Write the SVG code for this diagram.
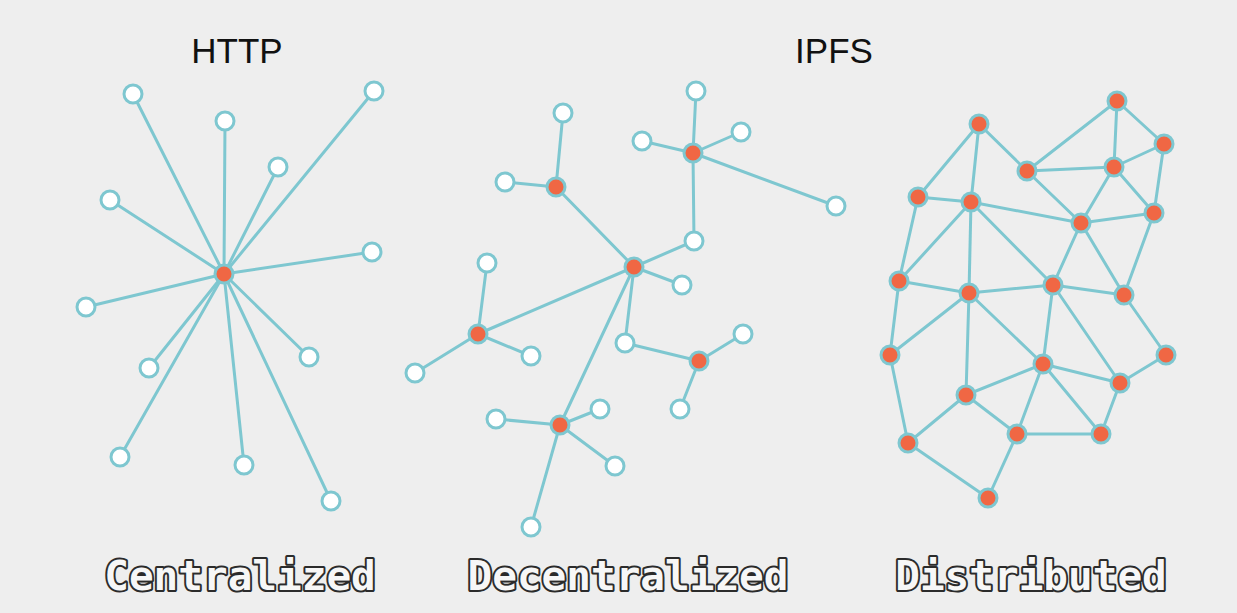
<svg xmlns="http://www.w3.org/2000/svg" width="1237" height="613" viewBox="0 0 1237 613">
<style>
.bg{fill:#eeeeee}
.e line{stroke:#7ec7d0;stroke-width:3;stroke-linecap:round}
.w{fill:#ffffff;stroke:#7ec7d0;stroke-width:3}
.o{fill:#f06744;stroke:#7ec7d0;stroke-width:3}
.title{font-family:"Liberation Sans",Arial,sans-serif;font-size:35px;fill:#111111;text-anchor:middle}
.lab{font-family:"DejaVu Sans Mono",monospace;font-weight:bold;font-size:41px;fill:#f7f7f7;stroke:#2b2b2b;stroke-width:4;paint-order:stroke;stroke-linejoin:round;text-anchor:middle}
</style>
<rect class="bg" x="0" y="0" width="1237" height="613"/>
<text class="title" x="237" y="63">HTTP</text>
<text class="title" x="834" y="63">IPFS</text>

<g id="connectors" class="e">
<!-- centralized -->
<line x1="224" y1="274" x2="133" y2="94"/>
<line x1="224" y1="274" x2="225" y2="121"/>
<line x1="224" y1="274" x2="374" y2="91"/>
<line x1="224" y1="274" x2="278" y2="167"/>
<line x1="224" y1="274" x2="110" y2="200"/>
<line x1="224" y1="274" x2="372" y2="252"/>
<line x1="224" y1="274" x2="86" y2="307"/>
<line x1="224" y1="274" x2="149" y2="368"/>
<line x1="224" y1="274" x2="309" y2="357"/>
<line x1="224" y1="274" x2="120" y2="457"/>
<line x1="224" y1="274" x2="244" y2="465"/>
<line x1="224" y1="274" x2="331" y2="501"/>
<!-- decentralized -->
<line x1="634" y1="267" x2="556" y2="187"/>
<line x1="556" y1="187" x2="563" y2="113"/>
<line x1="556" y1="187" x2="505" y2="182"/>
<line x1="634" y1="267" x2="694" y2="241"/>
<line x1="694" y1="241" x2="693" y2="153"/>
<line x1="693" y1="153" x2="696" y2="91"/>
<line x1="693" y1="153" x2="642" y2="141"/>
<line x1="693" y1="153" x2="741" y2="132"/>
<line x1="693" y1="153" x2="836" y2="206"/>
<line x1="634" y1="267" x2="682" y2="285"/>
<line x1="634" y1="267" x2="478" y2="334"/>
<line x1="478" y1="334" x2="487" y2="263"/>
<line x1="478" y1="334" x2="531" y2="356"/>
<line x1="478" y1="334" x2="415" y2="373"/>
<line x1="634" y1="267" x2="625" y2="343"/>
<line x1="625" y1="343" x2="699" y2="361"/>
<line x1="699" y1="361" x2="743" y2="334"/>
<line x1="699" y1="361" x2="680" y2="409"/>
<line x1="634" y1="267" x2="560" y2="425"/>
<line x1="560" y1="425" x2="496" y2="419"/>
<line x1="560" y1="425" x2="600" y2="409"/>
<line x1="560" y1="425" x2="615" y2="466"/>
<line x1="560" y1="425" x2="531" y2="527"/>
<!-- distributed -->
<line x1="979" y1="124" x2="918" y2="197"/>
<line x1="979" y1="124" x2="971" y2="202"/>
<line x1="979" y1="124" x2="1027" y2="171"/>
<line x1="1117" y1="101" x2="1027" y2="171"/>
<line x1="1117" y1="101" x2="1114" y2="167"/>
<line x1="1117" y1="101" x2="1164" y2="144"/>
<line x1="1164" y1="144" x2="1114" y2="167"/>
<line x1="1164" y1="144" x2="1154" y2="213"/>
<line x1="1027" y1="171" x2="1114" y2="167"/>
<line x1="1027" y1="171" x2="1081" y2="223"/>
<line x1="1114" y1="167" x2="1081" y2="223"/>
<line x1="1114" y1="167" x2="1154" y2="213"/>
<line x1="918" y1="197" x2="971" y2="202"/>
<line x1="918" y1="197" x2="899" y2="281"/>
<line x1="971" y1="202" x2="1081" y2="223"/>
<line x1="971" y1="202" x2="899" y2="281"/>
<line x1="971" y1="202" x2="969" y2="293"/>
<line x1="971" y1="202" x2="1053" y2="285"/>
<line x1="1081" y1="223" x2="1154" y2="213"/>
<line x1="1081" y1="223" x2="1053" y2="285"/>
<line x1="1081" y1="223" x2="1124" y2="295"/>
<line x1="1154" y1="213" x2="1124" y2="295"/>
<line x1="899" y1="281" x2="969" y2="293"/>
<line x1="969" y1="293" x2="1053" y2="285"/>
<line x1="1053" y1="285" x2="1124" y2="295"/>
<line x1="899" y1="281" x2="890" y2="355"/>
<line x1="969" y1="293" x2="890" y2="355"/>
<line x1="969" y1="293" x2="966" y2="395"/>
<line x1="969" y1="293" x2="1043" y2="364"/>
<line x1="1053" y1="285" x2="1043" y2="364"/>
<line x1="1053" y1="285" x2="1120" y2="383"/>
<line x1="1124" y1="295" x2="1166" y2="355"/>
<line x1="1043" y1="364" x2="966" y2="395"/>
<line x1="1043" y1="364" x2="1017" y2="434"/>
<line x1="1043" y1="364" x2="1101" y2="434"/>
<line x1="1043" y1="364" x2="1120" y2="383"/>
<line x1="1166" y1="355" x2="1120" y2="383"/>
<line x1="1120" y1="383" x2="1101" y2="434"/>
<line x1="966" y1="395" x2="908" y2="443"/>
<line x1="966" y1="395" x2="1017" y2="434"/>
<line x1="890" y1="355" x2="908" y2="443"/>
<line x1="908" y1="443" x2="988" y2="498"/>
<line x1="1017" y1="434" x2="988" y2="498"/>
<line x1="1017" y1="434" x2="1101" y2="434"/>
</g>

<g id="centralized">
<circle class="w" cx="133" cy="94" r="9"/>
<circle class="w" cx="225" cy="121" r="9"/>
<circle class="w" cx="374" cy="91" r="9"/>
<circle class="w" cx="278" cy="167" r="9"/>
<circle class="w" cx="110" cy="200" r="9"/>
<circle class="w" cx="372" cy="252" r="9"/>
<circle class="w" cx="86" cy="307" r="9"/>
<circle class="w" cx="149" cy="368" r="9"/>
<circle class="w" cx="309" cy="357" r="9"/>
<circle class="w" cx="120" cy="457" r="9"/>
<circle class="w" cx="244" cy="465" r="9"/>
<circle class="w" cx="331" cy="501" r="9"/>
<circle class="o" cx="224" cy="274" r="9"/>
</g>

<g id="decentralized">
<circle class="w" cx="563" cy="113" r="9"/>
<circle class="w" cx="505" cy="182" r="9"/>
<circle class="w" cx="694" cy="241" r="9"/>
<circle class="w" cx="696" cy="91" r="9"/>
<circle class="w" cx="642" cy="141" r="9"/>
<circle class="w" cx="741" cy="132" r="9"/>
<circle class="w" cx="836" cy="206" r="9"/>
<circle class="w" cx="682" cy="285" r="9"/>
<circle class="w" cx="487" cy="263" r="9"/>
<circle class="w" cx="531" cy="356" r="9"/>
<circle class="w" cx="415" cy="373" r="9"/>
<circle class="w" cx="625" cy="343" r="9"/>
<circle class="w" cx="743" cy="334" r="9"/>
<circle class="w" cx="680" cy="409" r="9"/>
<circle class="w" cx="496" cy="419" r="9"/>
<circle class="w" cx="600" cy="409" r="9"/>
<circle class="w" cx="615" cy="466" r="9"/>
<circle class="w" cx="531" cy="527" r="9"/>
<circle class="o" cx="634" cy="267" r="9"/>
<circle class="o" cx="556" cy="187" r="9"/>
<circle class="o" cx="693" cy="153" r="9"/>
<circle class="o" cx="478" cy="334" r="9"/>
<circle class="o" cx="699" cy="361" r="9"/>
<circle class="o" cx="560" cy="425" r="9"/>
</g>

<g id="distributed">
<circle class="o" cx="979" cy="124" r="9"/>
<circle class="o" cx="1117" cy="101" r="9"/>
<circle class="o" cx="1164" cy="144" r="9"/>
<circle class="o" cx="1027" cy="171" r="9"/>
<circle class="o" cx="1114" cy="167" r="9"/>
<circle class="o" cx="918" cy="197" r="9"/>
<circle class="o" cx="971" cy="202" r="9"/>
<circle class="o" cx="1081" cy="223" r="9"/>
<circle class="o" cx="1154" cy="213" r="9"/>
<circle class="o" cx="899" cy="281" r="9"/>
<circle class="o" cx="969" cy="293" r="9"/>
<circle class="o" cx="1053" cy="285" r="9"/>
<circle class="o" cx="1124" cy="295" r="9"/>
<circle class="o" cx="890" cy="355" r="9"/>
<circle class="o" cx="1166" cy="355" r="9"/>
<circle class="o" cx="1043" cy="364" r="9"/>
<circle class="o" cx="966" cy="395" r="9"/>
<circle class="o" cx="1120" cy="383" r="9"/>
<circle class="o" cx="908" cy="443" r="9"/>
<circle class="o" cx="1017" cy="434" r="9"/>
<circle class="o" cx="1101" cy="434" r="9"/>
<circle class="o" cx="988" cy="498" r="9"/>
</g>

<text class="lab" x="240" y="590">Centralized</text>
<text class="lab" x="628" y="590">Decentralized</text>
<text class="lab" x="1031" y="590">Distributed</text>
</svg>
